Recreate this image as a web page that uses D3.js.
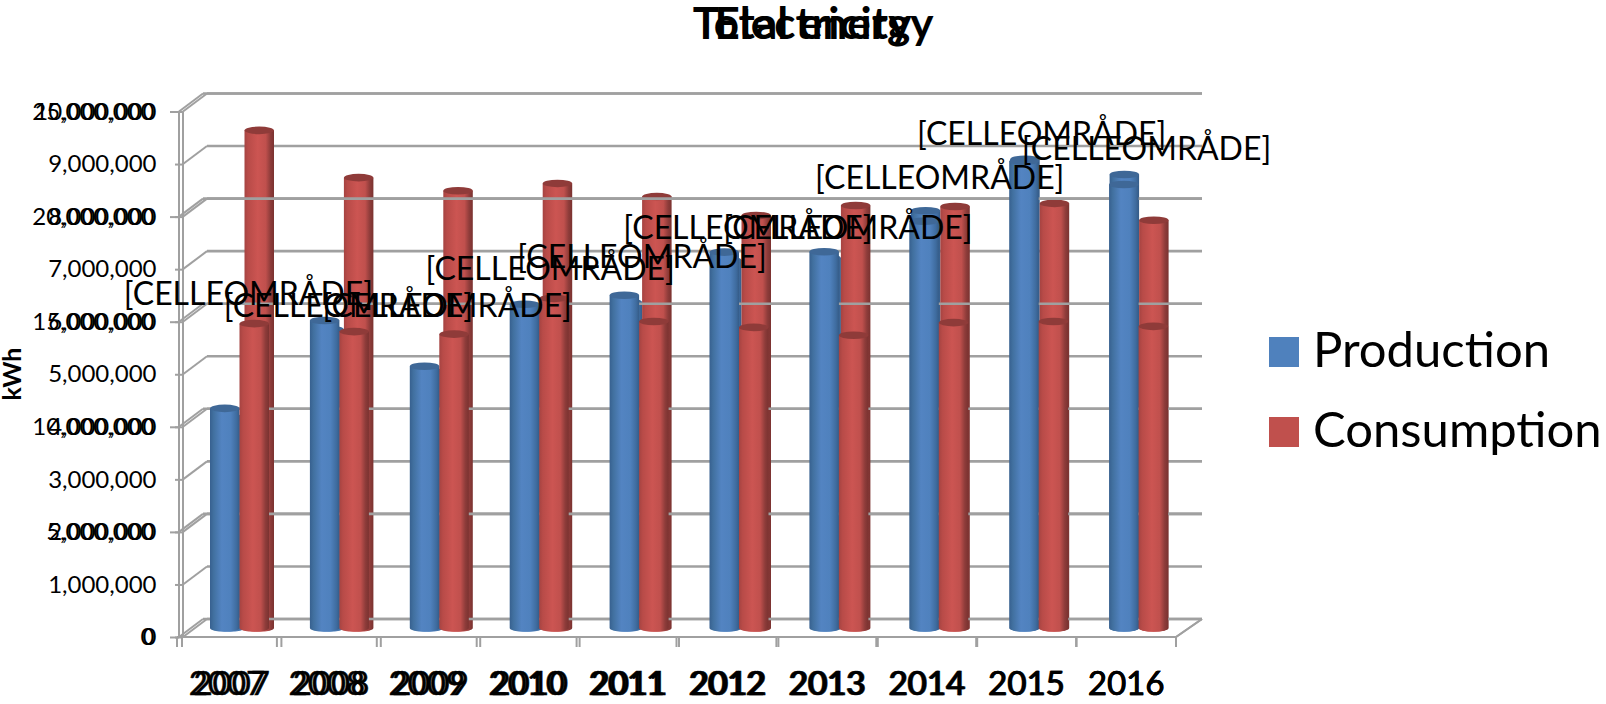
<!DOCTYPE html>
<html><head><meta charset="utf-8">
<style>html,body{margin:0;padding:0;background:#fff;overflow:hidden}svg{display:block}text{font-family:Lato,"Open Sans",sans-serif;fill:#000}</style>
<script src="https://cdnjs.cloudflare.com/ajax/libs/d3/7.8.5/d3.min.js"></script></head><body>
<svg id="c" width="1606" height="704"></svg>
<script>
const years=["2007","2008","2009","2010","2011","2012","2013","2014","2015","2016"];
const seriesNames=["Production","Consumption"];
const titles=["Electricity","Total energy"];
const unitLabel="kWh";
const dataLabel="[CELLEOMRÅDE]";
// Electricity chart (behind), axis 0 - 10,000,000
const elecProduction=[4000000,5680000,4880000,6000000,6200000,7000000,7040000,7940000,8920000,8630000];
const elecConsumption=[9470000,8570000,8320000,8460000,8210000,7850000,8040000,8020000,8080000,7760000];
// Total energy chart (in front), axis 0 - 25,000,000
const totalProduction=[10450000,14630000,12450000,15400000,15830000,17880000,17900000,19350000,22200000,21100000];
const totalConsumption=[14480000,14100000,13980000,15680000,14580000,14300000,13930000,14530000,14580000,14350000];
// where the data-label text sits, read on the 25,000,000 axis
const labelValues=[15940000,15410000,15410000,17130000,17700000,19080000,19080000,21460000,23550000,22880000];
const electricityMax=10000000, totalMax=25000000;
const electricityTicks=d3.range(0,electricityMax+1,1000000);
const totalTicks=d3.range(0,totalMax+1,5000000);

const svg=d3.select("#c");
const frontY0=637,frontY1=111.5,depthX=24,depthY=18,baseY=628;
const yE=d3.scaleLinear().domain([0,electricityMax]).range([frontY0,frontY1]);
const yT=d3.scaleLinear().domain([0,totalMax]).range([frontY0,frontY1]);
const barE=d3.scaleLinear().domain([0,electricityMax]).range([baseY,baseY-(frontY0-frontY1)]);
const barT=d3.scaleLinear().domain([0,totalMax]).range([baseY,baseY-(frontY0-frontY1)]);
const rightX=1176;
const xE=d3.scaleBand().domain(years).range([182,rightX]);
const xT=d3.scaleBand().domain(years).range([177,rightX]);
const inner=d3.scaleBand().domain(seriesNames).range([33,92]);
const rx=inner.bandwidth()/2,ry=3.8;
const GRID="#a0a0a0";

// gradients
const defs=svg.append("defs");
function grad(id,stops){const g=defs.append("linearGradient").attr("id",id).attr("x1",0).attr("x2",1).attr("y1",0).attr("y2",0);
 stops.forEach(s=>g.append("stop").attr("offset",s[0]).attr("stop-color",s[1]));}
grad("gBlue",[[0,"#37608f"],[.12,"#41709f"],[.4,"#5384c2"],[.7,"#4f81bd"],[.9,"#3f6c9f"],[1,"#355c88"]]);
grad("gRed",[[0,"#a54341"],[.12,"#b84b48"],[.45,"#cc5552"],[.72,"#c0504d"],[.88,"#8e3c3a"],[1,"#7a3230"]]);
const fills={Production:{side:"url(#gBlue)",top:"#3f6897"},Consumption:{side:"url(#gRed)",top:"#8f3b39"}};

function walls(g,y,ticks,x0){
 g.selectAll(".d").data(ticks).join("line").attr("class","d").attr("stroke",GRID).attr("stroke-width",2)
  .attr("x1",x0).attr("x2",x0+depthX).attr("y1",d=>y(d)).attr("y2",d=>y(d)-depthY);
 g.selectAll(".b").data(ticks).join("line").attr("class","b").attr("stroke",GRID).attr("stroke-width",2.6)
  .attr("x1",x0+depthX).attr("x2",rightX+26).attr("y1",d=>y(d)-depthY).attr("y2",d=>y(d)-depthY);
}
function frame(g,x,x0){
 g.append("line").attr("x1",x0).attr("x2",x0).attr("y1",frontY1).attr("y2",frontY0).attr("stroke",GRID).attr("stroke-width",2);
 g.append("line").attr("x1",x.range()[0]).attr("x2",rightX).attr("y1",frontY0).attr("y2",frontY0).attr("stroke",GRID).attr("stroke-width",2);
 g.append("line").attr("x1",rightX).attr("x2",rightX+26).attr("y1",frontY0).attr("y2",frontY0-depthY).attr("stroke",GRID).attr("stroke-width",2);
 const edges=x.domain().map(d=>x(d)).concat([rightX]);
 g.selectAll(".t").data(edges).join("line").attr("class","t").attr("stroke",GRID).attr("stroke-width",2)
  .attr("x1",d=>d).attr("x2",d=>d).attr("y1",frontY0).attr("y2",frontY0+10);
}
function cylinders(g,x,yb,prod,cons){
 [["Production",prod],["Consumption",cons]].forEach(([name,vals])=>{
  const s=g.append("g");
  const item=s.selectAll("g").data(years.map((yr,i)=>({yr,v:vals[i]}))).join("g");
  item.append("path").attr("fill",fills[name].side).attr("d",d=>{
    const l=x(d.yr)+inner(name),r=l+inner.bandwidth(),t=yb(d.v),b=yb(0);
    return `M${l},${t}L${l},${b}A${rx},${ry} 0 0 0 ${r},${b}L${r},${t}Z`;});
  item.append("ellipse").attr("fill",fills[name].top)
    .attr("cx",d=>x(d.yr)+inner(name)+rx).attr("cy",d=>yb(d.v)).attr("rx",rx).attr("ry",ry);
 });
}
function yAxis(y,ticks,x0,size,pad){
 const a=svg.append("g").attr("transform",`translate(${x0},0)`)
  .call(d3.axisLeft(y).tickValues(ticks).tickFormat(d3.format(",")).tickSize(size).tickPadding(pad));
 a.select(".domain").remove();
 a.selectAll(".tick line").attr("stroke",GRID).attr("stroke-width",2);
 a.selectAll("text").attr("font-size",24).attr("fill","#000").style("font-family","Lato");
}
function xLabels(x){
 svg.append("g").selectAll("text").data(years).join("text").attr("text-anchor","middle").attr("font-size",33)
  .attr("stroke","#000").attr("stroke-width",.5)
  .attr("x",d=>x(d)+x.bandwidth()/2).attr("y",695).text(d=>d);
}

// Electricity chart, behind
const rear=svg.append("g");
walls(rear,yE,electricityTicks,183);
frame(rear,xE,183);
cylinders(rear,xE,barE,elecProduction,elecConsumption);
// Total energy chart, in front
const front=svg.append("g");
walls(front,yT,totalTicks,179);
frame(front,xT,179);
cylinders(front,xT,barT,totalProduction,totalConsumption);

yAxis(yE,electricityTicks,183,8,18.5);
yAxis(yT,totalTicks,179,9,15.5);
xLabels(xE);xLabels(xT);

// data labels
const labelX=d3.scaleBand().domain(years).range([198.5,1197.5]);
const labelDx=[0,0,-1,2,-6,0,0,-8,-6,-1];
svg.append("g").selectAll("text").data(years).join("text")
 .attr("text-anchor","middle").attr("dominant-baseline","central").attr("font-size",32)
 .attr("x",(d,i)=>labelX(d)+labelX.bandwidth()/2+labelDx[i])
 .attr("y",(d,i)=>barT(labelValues[i])).text(dataLabel);

// titles
titles.forEach(t=>svg.append("text").attr("x",813).attr("y",39).attr("text-anchor","middle")
 .attr("font-size",44).attr("font-weight",700).text(t));
// axis title
svg.append("text").attr("transform","translate(21,374) rotate(-90)").attr("text-anchor","middle")
 .attr("font-size",25).attr("font-weight",700).text(unitLabel);
// legend
const leg=d3.scaleBand().domain(seriesNames).range([312,472]);
const legCol={Production:"#4f81bd",Consumption:"#c0504d"};
const li=svg.append("g").selectAll("g").data(seriesNames).join("g");
li.append("rect").attr("x",1269).attr("width",30).attr("height",30).attr("y",d=>leg(d)+25).attr("fill",d=>legCol[d]);
li.append("text").attr("x",1313).attr("y",d=>leg(d)+55).attr("font-size",49).text(d=>d);
</script></body></html>
